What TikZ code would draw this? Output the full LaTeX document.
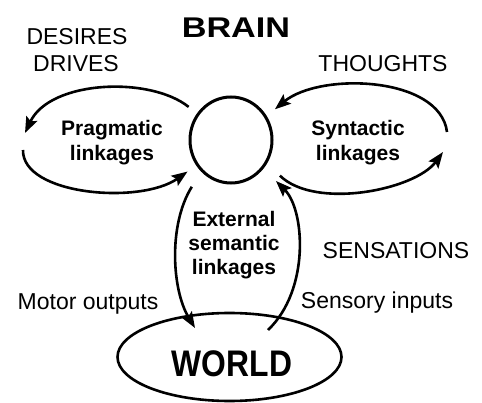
\documentclass[tikz,border=0pt]{standalone}
\usepackage{fontspec}
\setmainfont{Liberation Sans}
\usetikzlibrary{arrows.meta,shapes.geometric}
\begin{document}
\begin{tikzpicture}[x=1pt,y=-1pt,
  lbl/.style={anchor=base,inner sep=0pt,font=\fontsize{23}{23}\selectfont},
  blbl/.style={anchor=base,inner sep=0pt,font=\fontsize{21}{21}\selectfont\bfseries},
  big/.style={anchor=base,inner sep=0pt,font=\fontsize{#1}{#1}\selectfont\bfseries},
  arr/.style={line width=2.6pt,-{Stealth[length=16pt,width=12pt,inset=3pt]}}]
\useasboundingbox[fill=white] (0,0) rectangle (482,403);

% main shapes
\node[draw,ellipse,line width=3pt,minimum width=82pt,minimum height=86pt,inner sep=0pt,outer sep=12pt] (brain) at (231,140) {};
\node[draw,ellipse,line width=2.6pt,minimum width=224pt,minimum height=88pt,inner sep=0pt] (world) at (229.5,357) {};

% titles
\node[big=28.5] (braintxt) at (236,37.5) {\scalebox{1.2}[1]{BRAIN}};
\node[big=37] (worldtxt) at (232,377) {\scalebox{0.86}[1]{WORLD}};

% plain labels
\node[lbl] (desires) at (77,45) {DESIRES};
\node[lbl] (drives) at (76,72) {DRIVES};
\node[lbl] (thoughts) at (383,72) {THOUGHTS};
\node[lbl] (sens) at (396,259) {SENSATIONS};
\node[lbl] (sensory) at (377,309) {Sensory inputs};
\node[lbl] (motor) at (88,310) {Motor outputs};

% bold labels
\node[blbl] (prag1) at (112,136) {Pragmatic};
\node[blbl] (prag2) at (112,161) {linkages};
\node[blbl] (synt1) at (358,136) {Syntactic};
\node[blbl] (synt2) at (358,161) {linkages};
\node[blbl] (ext1) at (234,227) {External};
\node[blbl] (ext2) at (234,251) {semantic};
\node[blbl] (ext3) at (234,275) {linkages};

% free ends
\coordinate (pl1) at (25,133);
\coordinate (pl2) at (23,150);
\coordinate (pr1) at (447,132);
\coordinate (pr2) at (443,152);
\coordinate (wl) at (195,328);
\coordinate (wr) at (268,330);

% loops
\draw[arr] (brain.142.5) .. controls (150,76) and (50,80) .. (pl1);
\draw[arr] (pl2) .. controls (22,195) and (140,205) .. (brain.216.7);
\draw[arr] (pr1) .. controls (440,76) and (320,72) .. (brain.35.4);
\draw[arr,shorten <=7pt] (brain.325) .. controls (315,210) and (415,190) .. (pr2);
\draw[arr,shorten <=7pt] (brain.229) .. controls (168,225) and (172,290) .. (wl);
\draw[arr,shorten >=7pt] (wr) .. controls (310,290) and (305,210) .. (brain.318.6);
\end{tikzpicture}
\end{document}
